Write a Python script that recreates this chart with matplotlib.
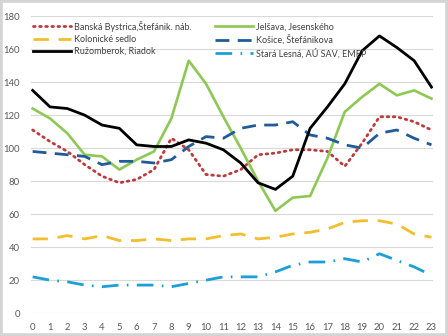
import matplotlib
matplotlib.use("Agg")
import matplotlib.pyplot as plt
from matplotlib.patches import Rectangle

plt.rcParams['font.family'] = ['Lato', 'DejaVu Sans']

hours = list(range(24))

banska_bystrica = [111, 104, 98, 90, 83, 79, 81, 87, 106, 99, 84, 83,
                   87, 96, 97, 99, 99, 98, 89, 103, 119, 119, 116, 111]
jelsava = [124, 118, 109, 96, 95, 87, 93, 98, 118, 153, 139, 119,
           100, 80, 62, 70, 71, 94, 122, 131, 139, 132, 135, 130]
kolonicke = [45, 45, 47, 45, 47, 44, 44, 45, 44, 45, 45, 47,
             48, 45, 46, 48, 49, 51, 55, 56, 56, 54, 48, 46]
kosice = [98, 97, 96, 95, 90, 92, 92, 91, 93, 101, 107, 106,
          112, 114, 114, 116, 108, 106, 102, 100, 109, 111, 106, 102]
ruzomberok = [135, 125, 124, 120, 114, 112, 102, 101, 101, 105, 103, 99,
              91, 79, 75, 83, 112, 125, 139, 159, 168, 161, 153, 137]
stara_lesna = [22, 20, 19, 17, 16, 17, 17, 17, 16, 18, 20, 22,
               22, 22, 25, 29, 31, 31, 33, 31, 36, 32, 28, 23]

labels = ["Banská Bystrica,Štefánik. náb.", "Jelšava, Jesenského",
          "Kolonické sedlo", "Košice, Štefánikova",
          "Ružomberok, Riadok", "Stará Lesná, AÚ SAV, EMEP"]

fig = plt.figure(figsize=(4.48, 3.36), dpi=100)
ax = fig.add_axes([0.069, 0.068, 0.898, 0.884])

ax.plot(hours, banska_bystrica, color='#C0393B', lw=2.0, ls=(0, (0.6, 1.6)),
        dash_capstyle='round', label=labels[0])
ax.plot(hours, jelsava, color='#8DC853', lw=1.9, label=labels[1])
ax.plot(hours, kolonicke, color='#F2BE2E', lw=2.0, ls=(0, (5.5, 3.5)),
        label=labels[2])
ax.plot(hours, kosice, color='#1F5C99', lw=2.0, ls=(0, (5, 3)),
        label=labels[3])
ax.plot(hours, ruzomberok, color='#000000', lw=2.0, label=labels[4])
ax.plot(hours, stara_lesna, color='#1C9FD6', lw=2.0,
        ls=(0, (6, 3, 0.6, 3)), label=labels[5])

ax.set_xlim(-0.1, 23.1)
ax.set_ylim(0, 180)
ax.set_xticks(hours)
ax.set_yticks(range(0, 181, 20))
ax.grid(axis='y', color='#D9D9D9', lw=0.8)
ax.set_axisbelow(True)
for s in ax.spines.values():
    s.set_visible(False)
ax.tick_params(length=0, labelsize=6.8, colors='#595959')
ax.tick_params(axis='x', pad=7)
ax.tick_params(axis='y', pad=8)

handles, labs = ax.get_legend_handles_labels()
order = [0, 2, 4, 1, 3, 5]
leg = ax.legend([handles[i] for i in order], [labs[i] for i in order],
                ncol=2, loc='upper left', bbox_to_anchor=(-0.005, 1.0),
                frameon=False, fontsize=6.5, handlelength=4.2,
                handletextpad=0.3, columnspacing=2.6, labelspacing=0.35,
                borderaxespad=0.1)
for t in leg.get_texts():
    t.set_color('#404040')

fig.patches.append(Rectangle((0, 0), 1, 1, transform=fig.transFigure,
                             fill=False, edgecolor='#D4D4D4', lw=4))

fig.savefig('out.png', dpi=100)
